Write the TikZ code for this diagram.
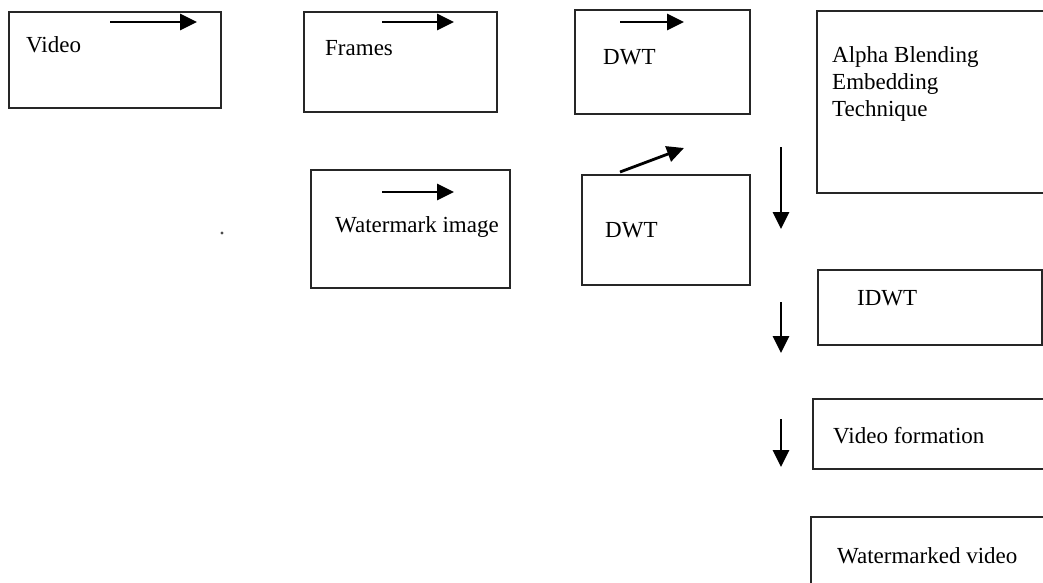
\documentclass[tikz,border=0pt]{standalone}
\usepackage{fontspec}
\setmainfont{Liberation Serif}
\usetikzlibrary{arrows.meta}
\begin{document}
\begin{tikzpicture}[x=1pt,y=-1pt,
  box/.style={draw=black!85,line width=1.8pt,inner sep=0pt,outer sep=0pt,anchor=north west},
  lbl/.style={anchor=base west,inner sep=0pt,font=\fontsize{23}{27}\selectfont},
  arr/.style={line width=2.8pt,-{Triangle[length=17pt,width=16pt]}}]
\clip (0,0) rectangle (1043,582);
\fill[white] (0,0) rectangle (1043,582);
% boxes
\node[box,minimum width=212pt,minimum height=96pt] (video) at (9,12) {};
\node[box,minimum width=193pt,minimum height=100pt] (frames) at (304,12) {};
\node[box,minimum width=175pt,minimum height=104pt] (dwta) at (575,10) {};
\node[box,minimum width=240pt,minimum height=182pt] (alpha) at (817,11) {};
\node[box,minimum width=199pt,minimum height=118pt] (wm) at (311,170) {};
\node[box,minimum width=168pt,minimum height=110pt] (dwtb) at (582,175) {};
\node[box,minimum width=224pt,minimum height=75pt] (idwt) at (818,270) {};
\node[box,minimum width=240pt,minimum height=70pt] (vf) at (813,399) {};
\node[box,minimum width=240pt,minimum height=100pt] (wv) at (811,517) {};
% texts
\node[lbl] (tvideo) at (26,52) {Video};
\node[lbl] (tframes) at (325,55) {Frames};
\node[lbl] (tdwta) at (603,64) {DWT};
\node[lbl] (talpha1) at (832,62) {Alpha Blending};
\node[lbl] (talpha2) at (832,89) {Embedding};
\node[lbl] (talpha3) at (832,116) {Technique};
\node[lbl] (twm) at (335,232) {Watermark image};
\node[lbl] (tdwtb) at (605,237) {DWT};
\node[lbl] (tidwt) at (857,305) {IDWT};
\node[lbl] (tvf) at (833,443) {Video formation};
\node[lbl] (twv) at (837,563) {Watermarked video};
% dot
\fill[black!70] (222,233) circle (1.6pt);
% arrows
\coordinate (a1s) at (110,22); \coordinate (a1e) at (197,22);
\coordinate (a2s) at (382,22); \coordinate (a2e) at (454,22);
\coordinate (a3s) at (620,22); \coordinate (a3e) at (684,22);
\coordinate (a4s) at (620,172); \coordinate (a4e) at (684,148);
\coordinate (a5s) at (382,192); \coordinate (a5e) at (454,192);
\coordinate (a6s) at (781,147); \coordinate (a6e) at (781,229);
\coordinate (a7s) at (781,302); \coordinate (a7e) at (781,353);
\coordinate (a8s) at (781,419); \coordinate (a8e) at (781,467);
\draw[arr] (a1s) -- (a1e);
\draw[arr] (a2s) -- (a2e);
\draw[arr] (a3s) -- (a3e);
\draw[arr] (a4s) -- (a4e);
\draw[arr] (a5s) -- (a5e);
\draw[arr] (a6s) -- (a6e);
\draw[arr] (a7s) -- (a7e);
\draw[arr] (a8s) -- (a8e);
\end{tikzpicture}
\end{document}
